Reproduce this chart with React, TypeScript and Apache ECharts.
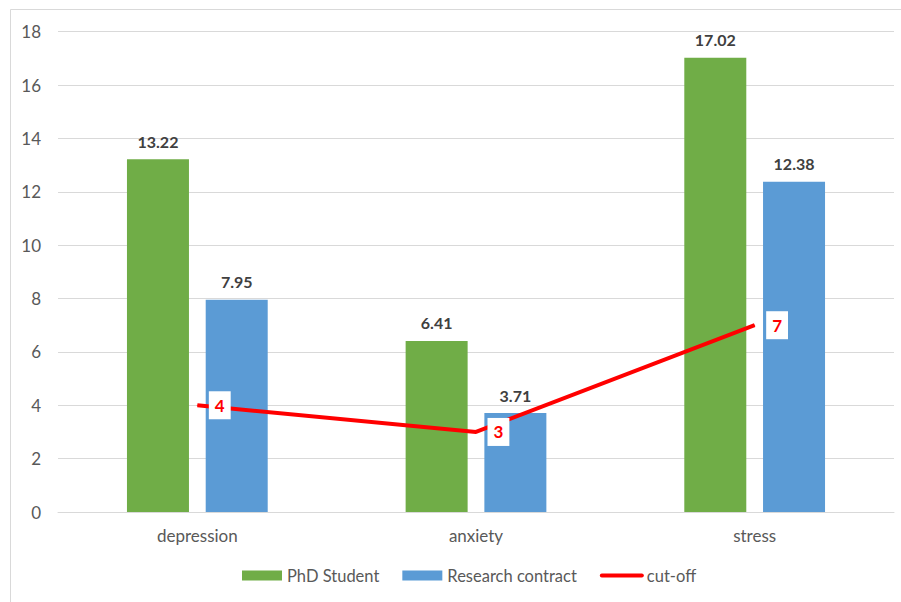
import React, { useEffect, useRef } from "react";
import * as echarts from "echarts";

const categories = ["depression", "anxiety", "stress"];
const phdStudent = [13.22, 6.41, 17.02];
const researchContract = [7.95, 3.71, 12.38];
const cutOff = [4, 3, 7];
const yTicks = { min: 0, max: 18, interval: 2 };

const FONT = "Lato, 'Open Sans', sans-serif";

export default function App() {
  const ref = useRef<HTMLDivElement>(null);
  useEffect(() => {
    if (!ref.current) return;
    const chart = echarts.init(ref.current, null, { renderer: "svg" });
    chart.setOption({
      animation: false,
      backgroundColor: "#ffffff",
      textStyle: { fontFamily: FONT },
      graphic: [
        {
          type: "rect",
          shape: { x: 10.5, y: 9.5, width: 900, height: 600 },
          style: { fill: "none", stroke: "#d9d9d9", lineWidth: 1 },
          silent: true,
        },
      ],
      grid: { left: 58, right: 7, top: 31.7, bottom: 90, containLabel: false },
      legend: {
        bottom: 13,
        left: 237,
        itemWidth: 40,
        itemHeight: 10,
        itemGap: 23,
        textStyle: { color: "#595959", fontSize: 16.5, fontFamily: FONT },
        data: [
          { name: "PhD Student", icon: "rect" },
          { name: "Research contract", icon: "rect" },
          { name: "cut-off", itemStyle: { opacity: 0 }, lineStyle: { width: 4, cap: "round" } },
        ],
      },
      xAxis: {
        type: "category",
        data: categories,
        axisLine: { lineStyle: { color: "#d9d9d9", width: 1 } },
        axisTick: { show: false },
        axisLabel: { color: "#595959", fontSize: 17, margin: 15, fontFamily: FONT },
      },
      yAxis: {
        type: "value",
        min: yTicks.min,
        max: yTicks.max,
        interval: yTicks.interval,
        axisLine: { show: false },
        axisTick: { show: false },
        splitLine: { lineStyle: { color: "#d9d9d9", width: 1 } },
        axisLabel: { color: "#595959", fontSize: 17, margin: 17, fontFamily: FONT },
      },
      series: [
        {
          name: "PhD Student",
          type: "bar",
          data: phdStudent,
          barWidth: 62,
          barGap: "27%",
          itemStyle: { color: "#70AD47" },
          label: {
            show: true,
            position: "top",
            distance: 10,
            color: "#404040",
            fontWeight: "bold",
            fontSize: 16,
            fontFamily: FONT,
          },
        },
        {
          name: "Research contract",
          type: "bar",
          data: researchContract,
          barWidth: 62,
          barGap: "27%",
          itemStyle: { color: "#5B9BD5" },
          label: {
            show: true,
            position: "top",
            distance: 10,
            color: "#404040",
            fontWeight: "bold",
            fontSize: 16,
            fontFamily: FONT,
          },
        },
        {
          name: "cut-off",
          type: "line",
          data: cutOff,
          symbol: "circle",
          symbolSize: 1,
          itemStyle: { color: "#FF0000" },
          lineStyle: { color: "#FF0000", width: 4 },
          z: 5,
          label: {
            show: true,
            position: "right",
            distance: 11,
            color: "#FF0000",
            fontWeight: "bold",
            fontSize: 17,
            fontFamily: FONT,
            backgroundColor: "#ffffff",
            padding: [6, 6, 5, 6],
          },
        },
      ],
    });
    return () => chart.dispose();
  }, []);
  return (
    <div style={{ position: "fixed", left: 0, top: 0, width: 901, height: 602, overflow: "hidden" }}>
      <div ref={ref} style={{ width: 901, height: 602 }} />
    </div>
  );
}
